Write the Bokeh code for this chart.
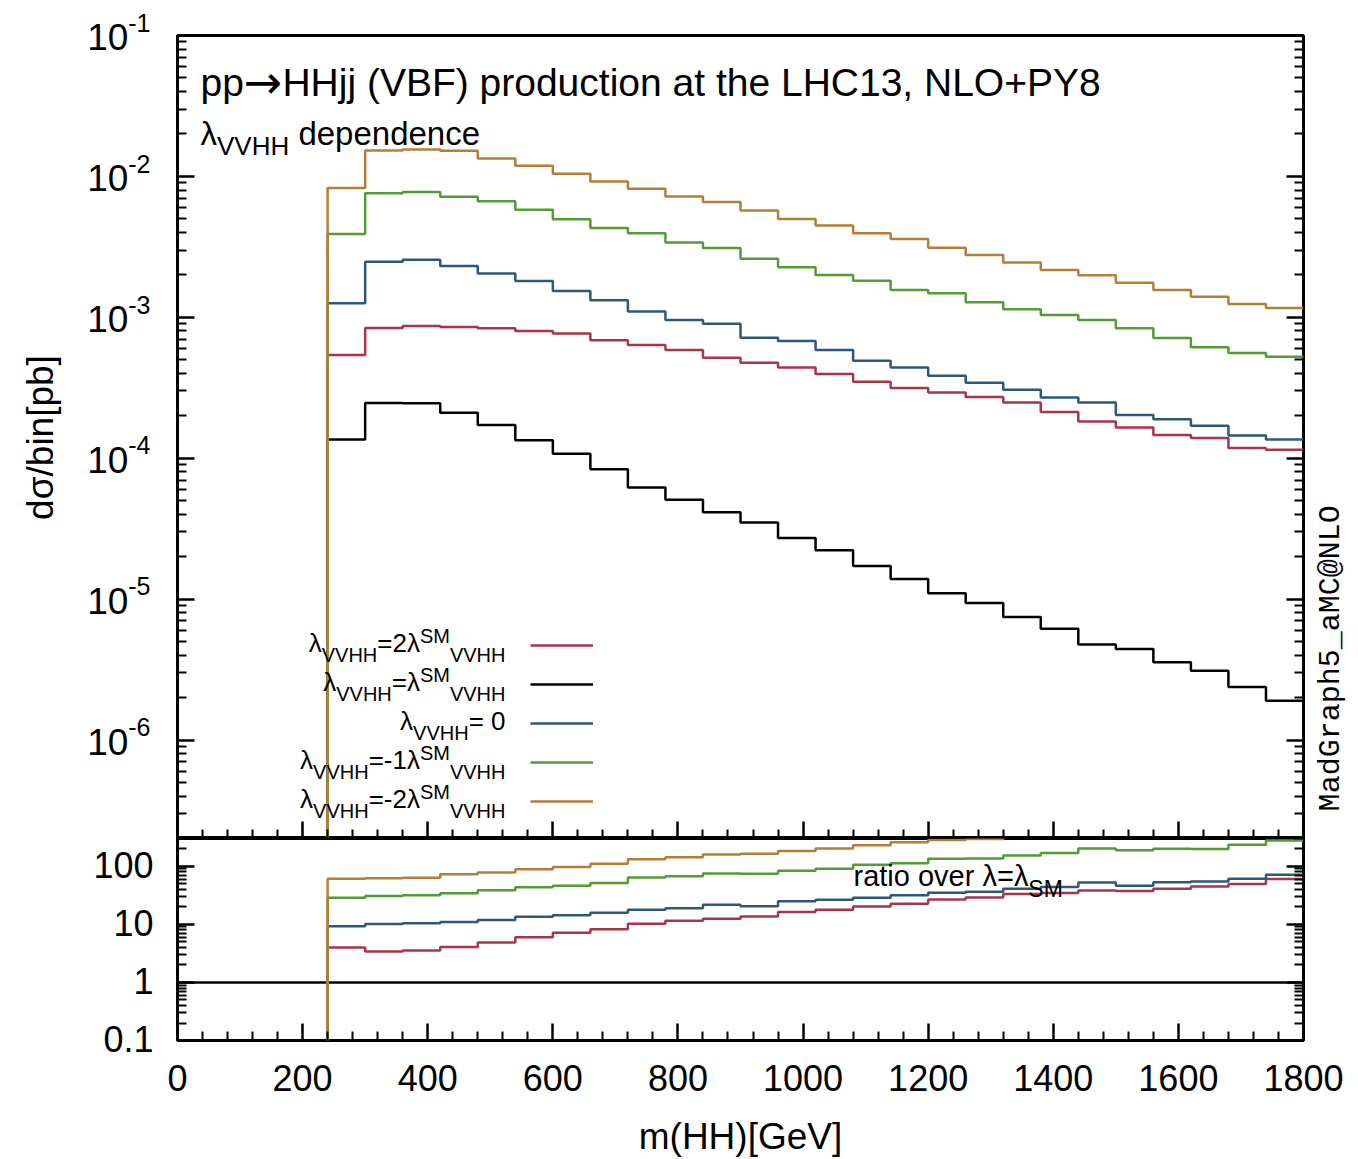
import numpy as np
from math import pi, log10
from bokeh.plotting import figure
from bokeh.models import (Range1d, LinearAxis, FixedTicker, Label, Legend, LegendItem,
                          Span, CustomJSTickFormatter)
from bokeh.layouts import column, row
from bokeh.embed import file_html
from bokeh.resources import INLINE

# ---------------- data ----------------
edges = [240, 300, 360, 420, 480, 540, 600, 660, 720, 780, 840, 900, 960, 1020,
         1080, 1140, 1200, 1260, 1320, 1380, 1440, 1500, 1560, 1620, 1680, 1740, 1800]

sig_2sm = [5.41e-4, 8.39e-4, 8.67e-4, 8.53e-4, 8.35e-4, 8.0e-4, 7.66e-4, 6.87e-4, 6.37e-4,
           5.85e-4, 5.17e-4, 4.76e-4, 4.41e-4, 3.96e-4, 3.49e-4, 3.15e-4, 2.93e-4, 2.72e-4,
           2.49e-4, 2.13e-4, 1.82e-4, 1.65e-4, 1.46e-4, 1.39e-4, 1.18e-4, 1.15e-4]
sig_sm = [1.36e-4, 2.46e-4, 2.45e-4, 2.10e-4, 1.72e-4, 1.34e-4, 1.075e-4, 8.35e-5, 6.2e-5,
          5.07e-5, 4.14e-5, 3.5e-5, 2.72e-5, 2.22e-5, 1.72e-5, 1.39e-5, 1.10e-5, 9.4e-6,
          7.48e-6, 6.15e-6, 4.77e-6, 4.42e-6, 3.56e-6, 3.10e-6, 2.38e-6, 1.90e-6]
sig_0 = [1.26e-3, 2.48e-3, 2.56e-3, 2.31e-3, 2.05e-3, 1.81e-3, 1.54e-3, 1.32e-3, 1.10e-3,
         9.58e-4, 9.0e-4, 7.16e-4, 6.79e-4, 5.86e-4, 4.92e-4, 4.41e-4, 3.85e-4, 3.43e-4,
         3.06e-4, 2.70e-4, 2.49e-4, 2.03e-4, 1.89e-4, 1.70e-4, 1.45e-4, 1.36e-4]
sig_m1 = [3.9e-3, 7.58e-3, 7.74e-3, 7.18e-3, 6.65e-3, 5.81e-3, 4.97e-3, 4.31e-3, 3.95e-3,
          3.40e-3, 3.10e-3, 2.60e-3, 2.27e-3, 2.0e-3, 1.82e-3, 1.56e-3, 1.48e-3, 1.28e-3,
          1.14e-3, 1.04e-3, 9.58e-4, 8.36e-4, 7.13e-4, 6.12e-4, 5.58e-4, 5.25e-4]
sig_m2 = [8.26e-3, 1.53e-2, 1.55e-2, 1.52e-2, 1.34e-2, 1.19e-2, 1.045e-2, 9.2e-3, 8.18e-3,
          7.2e-3, 6.57e-3, 5.72e-3, 4.98e-3, 4.49e-3, 3.95e-3, 3.6e-3, 3.11e-3, 2.77e-3,
          2.45e-3, 2.17e-3, 1.99e-3, 1.76e-3, 1.56e-3, 1.40e-3, 1.245e-3, 1.165e-3]

x_ticks = [0, 200, 400, 600, 800, 1000, 1200, 1400, 1600, 1800]
main_decades = [1e-1, 1e-2, 1e-3, 1e-4, 1e-5, 1e-6]
main_exponents = ["-1", "-2", "-3", "-4", "-5", "-6"]
ratio_ticks = [0.1, 1, 10, 100]
ratio_tick_labels = ["0.1", "1", "10", "100"]

RED, BLACK, BLUE, GREEN, ORANGE = "#A9344E", "#000000", "#2D5877", "#559B35", "#B57D3A"
series = [(sig_2sm, RED), (sig_sm, BLACK), (sig_0, BLUE), (sig_m1, GREEN), (sig_m2, ORANGE)]

FONT = "Liberation Sans"
MONO = "Liberation Mono"

# ---------------- geometry (page pixels) ----------------
W_PAGE, H_PAGE = 1358, 1159
LEFT_W = 160             # left text strip
PX0, PX1 = 177, 1303     # frame left / right
MT, MB = 35, 838         # main frame top / bottom
RB = 1040                # ratio frame bottom
XMIN, XMAX = 0, 1800
MAIN_LO, MAIN_HI = 2e-7, 0.1
RAT_LO, RAT_HI = 0.1, 300.0
P1_RIGHT = 2
MID_W = W_PAGE - LEFT_W
P1_W = (PX0 - LEFT_W) + (PX1 - PX0) + P1_RIGHT
PR_W = MID_W - P1_W
BASE_FIX = 0.39          # empirical baseline correction (fraction of font size)


def X(xp):
    return XMIN + (xp - PX0) * (XMAX - XMIN) / (PX1 - PX0)


def Ym(yp):
    a, b = log10(MAIN_HI), log10(MAIN_LO)
    return 10 ** (a - (yp - MT) * (a - b) / (MB - MT))


def Ym_inv(v):
    a, b = log10(MAIN_HI), log10(MAIN_LO)
    return MT + (a - log10(v)) * (MB - MT) / (a - b)


def Yr(yp):
    a, b = log10(RAT_HI), log10(RAT_LO)
    return 10 ** (a - (yp - MB) * (a - b) / (RB - MB))


def Yr_inv(v):
    a, b = log10(RAT_HI), log10(RAT_LO)
    return MB + (a - log10(v)) * (RB - MB) / (a - b)


WID = {'λ': 0.5, 'V': 0.667, 'H': 0.722, 'S': 0.667, 'M': 0.833, '=': 0.584, '-': 0.333,
       ' ': 0.278, 'c': 0.5, 'i': 0.222, 'r': 0.333, 't': 0.278, 'v': 0.5, '→': 0.838,
       '.': 0.278}


def tw(s, size):
    return sum(WID.get(c, 0.556) for c in s) * size


def rich(fig, Xf, Yf, x0, y0, pieces, align="left"):
    total = sum(tw(pc[0], pc[1]) for pc in pieces)
    x = x0 - total if align == "right" else x0
    for pc in pieces:
        t, s, dy = pc[0], pc[1], pc[2]
        font = pc[3] if len(pc) > 3 else FONT
        lead = len(t) - len(t.lstrip(" "))
        x += tw(" " * lead, s)
        t2 = t.lstrip(" ")
        fig.add_layout(Label(x=Xf(x), y=Yf(y0 + dy - BASE_FIX * s), text=t2, text_font=font,
                             text_font_size=f"{s}px", text_baseline="alphabetic",
                             text_align="left", text_color="black"))
        x += tw(t2, s)


def minor_log(lo_exp, hi_exp):
    out = []
    for e in range(lo_exp, hi_exp):
        for m in range(2, 10):
            out.append(m * 10.0 ** e)
    return out


def style_axis(ax, labels=False, size="36px"):
    ax.axis_line_color = None
    ax.major_tick_in = 17
    ax.major_tick_out = 0
    ax.minor_tick_in = 9
    ax.minor_tick_out = 0
    ax.major_tick_line_width = 2.5
    ax.minor_tick_line_width = 2
    ax.major_tick_line_color = "black"
    ax.minor_tick_line_color = "black"
    ax.axis_label_text_font_style = "normal"
    ax.axis_label_text_color = "black"
    if labels:
        ax.major_label_text_font = FONT
        ax.major_label_text_font_size = size
        ax.major_label_text_color = "black"
    else:
        ax.major_label_text_font_size = "0px"
        ax.major_label_standoff = 0
        ax.formatter = CustomJSTickFormatter(code="return ''")


def blank_fig(w, h, x0):
    f = figure(width=w, height=h, x_range=Range1d(x0, x0 + w), y_range=Range1d(0, h),
               x_axis_location=None, y_axis_location=None, output_backend="svg",
               toolbar_location=None, min_border=0)
    f.xgrid.visible = False
    f.ygrid.visible = False
    f.outline_line_color = None
    f.border_fill_color = "white"
    return f


x_minor = [t for t in range(40, 1800, 40) if t % 200 != 0]

# ---------------- main panel ----------------
p1 = figure(width=P1_W, height=MB, x_range=Range1d(XMIN, XMAX),
            y_range=Range1d(MAIN_LO, MAIN_HI), y_axis_type="log",
            x_axis_location=None, y_axis_location=None,
            output_backend="svg", toolbar_location=None,
            min_border_left=PX0 - LEFT_W, min_border_right=P1_RIGHT, min_border_top=MT,
            min_border_bottom=0)
p1.xgrid.visible = False
p1.ygrid.visible = False
p1.outline_line_color = "black"
p1.outline_line_width = 3
p1.border_fill_color = "white"

for loc in ("left", "right"):
    ax = LinearAxis(ticker=FixedTicker(ticks=main_decades, minor_ticks=minor_log(-7, -1)))
    style_axis(ax)
    p1.add_layout(ax, loc)
axb = LinearAxis(ticker=FixedTicker(ticks=x_ticks, minor_ticks=x_minor))
style_axis(axb)
p1.add_layout(axb, "below")

renderers = []
for vals, col in series:
    xs = [edges[0]] + edges
    ys = [MAIN_LO] + list(vals) + [vals[-1]]
    r = p1.step(x=xs, y=ys, mode="after", line_color=col, line_width=2.5)
    renderers.append(r)

legend = Legend(items=[LegendItem(label=" ", renderers=[r]) for r in renderers],
                location=(530 - PX0, MB - 811), glyph_width=63, glyph_height=20,
                label_width=0, label_height=20, label_standoff=0, spacing=19,
                padding=0, margin=0, border_line_color=None, background_fill_alpha=0,
                label_text_font_size="1px")
p1.add_layout(legend)

rich(p1, X, Ym, 200, 97, [("pp", 39, 0), ("→", 46, 2, "DejaVu Sans"),
                          ("HHjj (VBF) production at the LHC13, NLO+PY8", 39, 0)])
rich(p1, X, Ym, 200, 146, [("λ", 33, 0), ("VVHH", 26, 10), (" dependence", 33, 0)])

rows = [645, 684, 723, 762, 801]
leg_mid = ["=2λ", "=λ", "= 0", "=-1λ", "=-2λ"]
for yrow, mid in zip(rows, leg_mid):
    pcs = [("λ", 26, 8), ("VVHH", 20, 17), (mid, 26, 8)]
    if mid != "= 0":
        pcs += [("SM", 20, -2), ("VVHH", 20, 17)]
    rich(p1, X, Ym, 505, yrow, pcs, align="right")

# ---------------- right strip (program tag) ----------------
pR = blank_fig(PR_W, MB, LEFT_W + P1_W)
pR.add_layout(Label(x=1330, y=MB - 650, text="MadGraph5_aMC@NLO", angle=pi / 2,
                    text_font=MONO, text_font_size="30px", text_align="center",
                    text_baseline="alphabetic", text_color="black"))

# ---------------- ratio panel ----------------
p2 = figure(width=MID_W, height=H_PAGE - MB, x_range=p1.x_range,
            y_range=Range1d(RAT_LO, RAT_HI), y_axis_type="log",
            x_axis_location=None, y_axis_location=None,
            output_backend="svg", toolbar_location=None,
            min_border_left=PX0 - LEFT_W, min_border_right=W_PAGE - PX1, min_border_top=0,
            min_border_bottom=H_PAGE - RB)
p2.xgrid.visible = False
p2.ygrid.visible = False
p2.outline_line_color = "black"
p2.outline_line_width = 3
p2.border_fill_color = "white"

for loc in ("left", "right"):
    ax = LinearAxis(ticker=FixedTicker(ticks=ratio_ticks, minor_ticks=minor_log(-1, 3)))
    style_axis(ax)
    p2.add_layout(ax, loc)
axb2 = LinearAxis(ticker=FixedTicker(ticks=x_ticks, minor_ticks=x_minor))
style_axis(axb2, labels=True)
axb2.major_label_standoff = 24
axb2.axis_label = "m(HH)[GeV]"
axb2.axis_label_text_font = FONT
axb2.axis_label_text_font_size = "37px"
axb2.axis_label_standoff = 22
p2.add_layout(axb2, "below")

p2.add_layout(Span(location=1.0, dimension="width", line_color="black", line_width=2.5,
                   level="underlay"))

sm = np.array(sig_sm)
for vals, col in series:
    if vals is sig_sm:
        continue
    rat = np.array(vals) / sm
    xs = [edges[0]] + edges
    ys = [RAT_LO] + list(rat) + [rat[-1]]
    p2.step(x=xs, y=ys, mode="after", line_color=col, line_width=2.5)

rich(p2, X, Yr, 853, 887, [("ratio over λ=λ", 29, 0), ("SM", 23, 10)])

# ---------------- left strip (tick labels, y title) ----------------
pL = blank_fig(LEFT_W, H_PAGE, 0)
ident = lambda v: v
flip = lambda yp: H_PAGE - yp
for v, ex in zip(main_decades, main_exponents):
    T = Ym_inv(v)
    rich(pL, ident, flip, 150, T, [("10", 37, 16), (ex, 25, -3)], align="right")
for v, lab in zip(ratio_ticks, ratio_tick_labels):
    T = Yr_inv(v)
    rich(pL, ident, flip, 153, T, [(lab, 36, 13)], align="right")
pL.add_layout(Label(x=40, y=H_PAGE - 437, text="dσ/bin[pb]", angle=pi / 2,
                    text_font=FONT, text_font_size="37px", text_align="center",
                    text_baseline="alphabetic", text_color="black"))

layout = row(pL, column(row(p1, pR, spacing=0), p2, spacing=0), spacing=0)
open("out.html", "w").write(file_html(layout, INLINE))
